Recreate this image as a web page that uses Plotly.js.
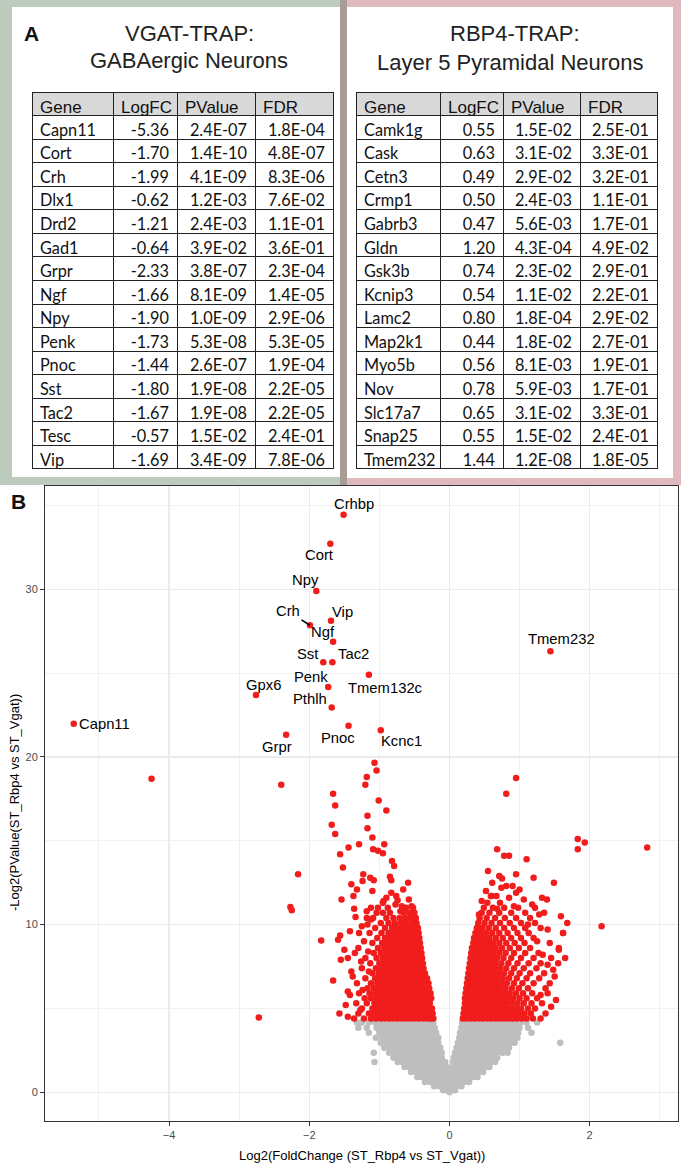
<!DOCTYPE html>
<html><head><meta charset="utf-8">
<script src="https://cdn.plot.ly/plotly-3.0.1.min.js"></script>
<style>html,body{margin:0;padding:0;background:#fff}#chart{width:681px;height:1165px}</style>
</head><body><div id="chart"></div>
<script>
// ---------- Panel A tables ----------
const tableHeader = ['Gene','LogFC','PValue','FDR'];
const vgatGenes = ['Capn11','Cort','Crh','Dlx1','Drd2','Gad1','Grpr','Ngf','Npy','Penk','Pnoc','Sst','Tac2','Tesc','Vip'];
const vgatLogFC = [-5.36,-1.70,-1.99,-0.62,-1.21,-0.64,-2.33,-1.66,-1.90,-1.73,-1.44,-1.80,-1.67,-0.57,-1.69];
const vgatPValue = [2.4e-7,1.4e-10,4.1e-9,1.2e-3,2.4e-3,3.9e-2,3.8e-7,8.1e-9,1.0e-9,5.3e-8,2.6e-7,1.9e-8,1.9e-8,1.5e-2,3.4e-9];
const vgatFDR = [1.8e-4,4.8e-7,8.3e-6,7.6e-2,1.1e-1,3.6e-1,2.3e-4,1.4e-5,2.9e-6,5.3e-5,1.9e-4,2.2e-5,2.2e-5,2.4e-1,7.8e-6];

const rbp4Genes = ['Camk1g','Cask','Cetn3','Crmp1','Gabrb3','Gldn','Gsk3b','Kcnip3','Lamc2','Map2k1','Myo5b','Nov','Slc17a7','Snap25','Tmem232'];
const rbp4LogFC = [0.55,0.63,0.49,0.50,0.47,1.20,0.74,0.54,0.80,0.44,0.56,0.78,0.65,0.55,1.44];
const rbp4PValue = [1.5e-2,3.1e-2,2.9e-2,2.4e-3,5.6e-3,4.3e-4,2.3e-2,1.1e-2,1.8e-4,1.8e-2,8.1e-3,5.9e-3,3.1e-2,1.5e-2,1.2e-8];
const rbp4FDR = [2.5e-1,3.3e-1,3.2e-1,1.1e-1,1.7e-1,4.9e-2,2.9e-1,2.2e-1,2.9e-2,2.7e-1,1.9e-1,1.7e-1,3.3e-1,2.4e-1,1.8e-5];

// ---------- Panel B volcano ----------
const xTickVals = [-4,-2,0,2];
const yTickVals = [0,10,20,30];
// labelled genes: log2 fold change, -log2(p)
const labGenes = ['Crhbp','Cort','Npy','Crh','Vip','Ngf','Sst','Tac2','Tmem132c','Penk','Gpx6','Pthlh','Pnoc','Kcnc1','Grpr','Capn11','Tmem232'];
const labX = [-1.51,-1.70,-1.90,-1.99,-1.69,-1.66,-1.80,-1.67,-1.15,-1.73,-2.76,-1.68,-1.44,-0.98,-2.33,-5.36,1.44];
const labY = [34.45,32.73,29.90,27.86,28.13,26.88,25.65,25.65,24.90,24.17,23.70,22.95,21.87,21.60,21.33,21.99,26.31];

// significant genes (red), rows: [-log2 p, [log2FC ...]]
const sigLeftRows = [
 [4.4,[-1.36,-1.22,-1.12,-1.05,-0.98,-0.92,-0.86,-0.80,-0.74,-0.68,-0.62,-0.56,-0.50,-0.44,-0.38,-0.32,-0.27,-0.23]],
 [4.7,[-1.30,-1.15,-1.08,-1.01,-0.95,-0.89,-0.83,-0.77,-0.71,-0.65,-0.59,-0.53,-0.47,-0.41,-0.35,-0.29,-0.24]],
 [5.0,[-1.25,-1.10,-1.03,-0.97,-0.91,-0.85,-0.79,-0.73,-0.67,-0.61,-0.55,-0.49,-0.43,-0.37,-0.31,-0.25]],
 [5.3,[-1.33,-1.18,-1.07,-1.00,-0.94,-0.88,-0.82,-0.76,-0.70,-0.64,-0.58,-0.52,-0.46,-0.40,-0.34,-0.28]],
 [5.6,[-1.21,-1.12,-1.04,-0.97,-0.91,-0.85,-0.79,-0.73,-0.67,-0.61,-0.55,-0.49,-0.43,-0.37,-0.31,-0.26]],
 [5.9,[-1.29,-1.14,-1.06,-0.99,-0.93,-0.87,-0.81,-0.75,-0.69,-0.63,-0.57,-0.51,-0.45,-0.39,-0.33,-0.27]],
 [6.2,[-1.17,-1.08,-1.01,-0.95,-0.89,-0.83,-0.77,-0.71,-0.65,-0.59,-0.53,-0.47,-0.41,-0.35,-0.29]],
 [6.5,[-1.32,-1.12,-1.03,-0.97,-0.91,-0.85,-0.79,-0.73,-0.67,-0.61,-0.55,-0.49,-0.43,-0.37,-0.30]],
 [6.8,[-1.20,-1.06,-0.99,-0.93,-0.87,-0.81,-0.75,-0.69,-0.63,-0.57,-0.51,-0.45,-0.39,-0.32]],
 [7.1,[-1.10,-1.01,-0.95,-0.89,-0.83,-0.77,-0.71,-0.65,-0.59,-0.53,-0.47,-0.41,-0.35]],
 [7.4,[-1.25,-1.05,-0.97,-0.91,-0.85,-0.79,-0.73,-0.67,-0.61,-0.55,-0.49,-0.43,-0.37]],
 [7.7,[-1.13,-1.00,-0.93,-0.87,-0.80,-0.74,-0.68,-0.62,-0.56,-0.50,-0.44,-0.38]],
 [8.0,[-1.20,-1.04,-0.95,-0.88,-0.82,-0.75,-0.69,-0.63,-0.57,-0.51,-0.45,-0.39]],
 [8.3,[-1.08,-0.98,-0.90,-0.83,-0.77,-0.70,-0.64,-0.58,-0.52,-0.46,-0.40]],
 [8.6,[-1.30,-1.02,-0.93,-0.85,-0.78,-0.72,-0.65,-0.59,-0.53,-0.47,-0.41]],
 [8.9,[-1.10,-0.96,-0.88,-0.80,-0.73,-0.67,-0.60,-0.54,-0.48,-0.42]],
 [9.2,[-1.03,-0.92,-0.84,-0.76,-0.69,-0.62,-0.55,-0.49,-0.43]],
 [9.5,[-1.14,-0.97,-0.87,-0.79,-0.71,-0.64,-0.57,-0.50,-0.44]],
 [9.8,[-1.06,-0.92,-0.82,-0.74,-0.66,-0.58,-0.51,-0.45]],
 [10.1,[-0.98,-0.87,-0.78,-0.69,-0.61,-0.53,-0.47]],
 [10.4,[-1.09,-0.90,-0.80,-0.71,-0.63,-0.55,-0.48]],
 [10.7,[-0.95,-0.85,-0.65,-0.57,-0.50]],
 [11.0,[-1.12,-0.88,-0.62,-0.52]]
];
const sigRightRows = [
 [4.4,[0.19,0.24,0.30,0.36,0.42,0.48,0.54,0.60,0.66,0.72,0.78,0.84,0.90,0.96,1.03,1.10,1.19,1.30]],
 [4.7,[0.20,0.26,0.32,0.38,0.44,0.50,0.56,0.62,0.68,0.74,0.80,0.86,0.92,0.99,1.07,1.16,1.37]],
 [5.0,[0.21,0.27,0.33,0.39,0.45,0.51,0.57,0.63,0.69,0.75,0.81,0.87,0.94,1.02,1.12,1.22]],
 [5.3,[0.22,0.28,0.34,0.40,0.46,0.52,0.58,0.64,0.70,0.76,0.82,0.89,0.97,1.06,1.17,1.32]],
 [5.6,[0.22,0.28,0.34,0.40,0.46,0.52,0.58,0.64,0.70,0.76,0.83,0.91,1.00,1.10,1.25]],
 [5.9,[0.23,0.29,0.35,0.41,0.47,0.53,0.59,0.65,0.71,0.78,0.86,0.95,1.05,1.18,1.40]],
 [6.2,[0.24,0.30,0.36,0.42,0.48,0.54,0.60,0.66,0.72,0.80,0.89,0.99,1.12,1.37]],
 [6.5,[0.25,0.31,0.37,0.43,0.49,0.55,0.61,0.67,0.74,0.82,0.92,1.04,1.20,1.43]],
 [6.8,[0.26,0.32,0.38,0.44,0.50,0.56,0.62,0.68,0.76,0.85,0.96,1.10,1.28]],
 [7.1,[0.27,0.33,0.39,0.45,0.51,0.57,0.63,0.70,0.78,0.88,1.00,1.15,1.35]],
 [7.4,[0.28,0.34,0.40,0.46,0.52,0.58,0.64,0.72,0.81,0.92,1.06,1.24]],
 [7.7,[0.29,0.35,0.41,0.47,0.53,0.59,0.66,0.74,0.84,0.97,1.13,1.30]],
 [8.0,[0.30,0.36,0.42,0.48,0.54,0.61,0.68,0.77,0.88,1.02,1.20,1.45]],
 [8.3,[0.31,0.37,0.43,0.49,0.56,0.63,0.71,0.80,0.92,1.08,1.27]],
 [8.6,[0.32,0.38,0.44,0.51,0.58,0.66,0.75,0.86,0.99,1.15,1.56]],
 [8.9,[0.34,0.40,0.47,0.54,0.62,0.71,0.81,0.93,1.07,1.43]],
 [9.2,[0.35,0.42,0.49,0.57,0.66,0.76,0.88,1.02,1.20]],
 [9.5,[0.37,0.44,0.52,0.61,0.71,0.83,0.97,1.13,1.62]],
 [9.8,[0.39,0.47,0.56,0.66,0.78,0.92,1.08,1.30]],
 [10.1,[0.41,0.50,0.60,0.72,0.86,1.02,1.22,1.68]],
 [10.4,[0.43,0.53,0.65,0.79,0.95,1.15]],
 [10.7,[0.46,0.57,0.71,0.88,1.08,1.35]],
 [11.0,[0.49,0.62,0.78,0.98,1.22]]
];
const sigScatter = [
 [-1.07,19.65],[-1.04,19.2],[-1.18,18.8],[-1.20,18.35],[-2.40,18.35],[-4.25,18.7],[-1.66,17.8],[-1.63,17.1],
 [-1.01,17.4],[-0.90,16.8],[-1.17,16.5],[-1.68,15.95],[-1.63,15.4],[-1.17,15.75],[-1.10,15.2],[-0.93,14.8],
 [-1.29,14.8],[-1.44,14.6],[-1.09,14.5],[-1.02,14.4],[-0.95,14.25],[-1.56,14.2],[-0.82,13.8],[-0.79,13.5],
 [-1.52,13.4],[-2.16,13.0],[-1.23,13.0],[-1.13,12.8],[-1.08,12.65],[-1.24,12.6],[-0.85,12.85],[-0.83,12.65],
 [-0.59,12.5],[-1.40,12.4],[-1.32,12.1],[-1.10,12.0],[-2.27,11.05],[-2.25,10.85],[-1.54,11.5],[-1.37,11.7],
 [-1.36,10.95],[-1.34,10.45],[-0.94,11.4],[-0.90,11.6],[-0.76,11.7],[-0.74,11.45],[-0.68,11.1],[-0.54,11.1],
 [-0.77,11.2],[-1.18,10.8],[-1.04,10.7],[-1.18,10.4],[-1.17,10.0],[-1.42,9.6],[-1.29,9.5],[-1.56,9.35],
 [-1.59,9.1],[-1.83,9.05],[-1.55,7.9],[-1.50,8.5],[-1.66,6.67],[-1.57,4.7],[-2.72,4.45],[-1.45,6.0],
 [-1.40,7.2],[-1.45,8.0],
 [-1.48,5.2],[-1.42,5.8],[-1.38,6.9],[-1.26,7.8],[-1.35,8.3],[-1.22,9.0],[-1.25,9.9],[-1.12,10.3],
 [-1.02,11.0],[-1.45,4.5],[-1.27,4.9],[-1.24,6.1],[-1.15,7.2],[-1.16,8.4],
 [-0.70,10.8],[-0.95,11.3],[-0.58,11.5],[-0.83,11.9],[-0.66,12.1],
 [0.95,18.75],[0.81,17.8],[1.83,15.1],[1.93,14.9],[1.83,14.5],[2.82,14.6],[0.68,14.5],[0.78,14.1],
 [0.85,14.1],[1.10,13.9],[1.49,12.5],[0.71,12.9],[0.75,12.75],[0.61,12.5],[0.60,11.7],[0.81,12.3],
 [0.90,12.3],[0.85,11.6],[0.59,11.7],[0.67,11.7],[1.06,11.5],[1.32,11.6],[1.39,11.5],[2.17,9.9],
 [1.62,9.5],[1.59,10.5],[1.56,8.5],[0.55,13.2],[0.95,13.0],[1.20,12.8],[0.52,12.0],[1.00,12.1],
 [1.45,5.1],[1.52,5.5],[1.30,5.8],[1.50,6.9],[1.40,7.6],[1.33,8.2],[1.25,9.0],[1.40,9.7],
 [1.12,10.0],[1.28,10.6],[1.18,11.2],[0.72,11.3],[0.92,11.1],[1.48,7.3],[1.65,8.0],[1.55,7.7],
 [0.54,11.3],[0.68,10.95],[0.42,10.6],[0.46,11.4],[0.74,12.2],[0.95,11.9]
];
// non-significant genes (grey), rows: [-log2 p, [log2FC ...]]
const nsRows = [
 [4.15,[-1.32,-1.25,-1.15,-1.06,-0.99,-0.92,-0.85,-0.78,-0.71,-0.64,-0.57,-0.50,-0.43,-0.36,-0.29,-0.23,0.18,0.25,0.32,0.39,0.46,0.53,0.60,0.67,0.74,0.81,0.88,0.95,1.02,1.10,1.25]],
 [3.85,[-1.30,-1.18,-1.04,-0.97,-0.90,-0.83,-0.76,-0.69,-0.62,-0.55,-0.48,-0.41,-0.34,-0.27,-0.21,0.17,0.23,0.30,0.37,0.44,0.51,0.58,0.65,0.72,0.79,0.86,0.93,1.00,1.12]],
 [3.55,[-1.15,-1.00,-0.93,-0.86,-0.79,-0.72,-0.65,-0.58,-0.51,-0.44,-0.37,-0.30,-0.24,-0.19,0.15,0.21,0.28,0.35,0.42,0.49,0.56,0.63,0.70,0.77,0.84,0.91,0.98,1.17]],
 [3.25,[-1.05,-0.96,-0.89,-0.82,-0.75,-0.68,-0.61,-0.54,-0.47,-0.40,-0.33,-0.26,-0.20,-0.16,0.14,0.19,0.26,0.33,0.40,0.47,0.54,0.61,0.68,0.75,0.82,0.89,0.97]],
 [2.95,[-0.98,-0.91,-0.84,-0.77,-0.70,-0.63,-0.56,-0.49,-0.42,-0.35,-0.28,-0.22,-0.16,0.12,0.17,0.24,0.31,0.38,0.45,0.52,0.59,0.66,0.73,0.80,0.87,0.93,1.58]],
 [2.65,[-0.93,-0.86,-0.79,-0.72,-0.65,-0.58,-0.51,-0.44,-0.37,-0.30,-0.23,-0.17,-0.13,0.10,0.15,0.22,0.29,0.36,0.43,0.50,0.57,0.64,0.71,0.78,0.85]],
 [2.35,[-1.08,-0.86,-0.79,-0.72,-0.65,-0.58,-0.51,-0.44,-0.37,-0.30,-0.23,-0.17,-0.11,0.08,0.13,0.20,0.27,0.34,0.41,0.48,0.55,0.62,0.69,0.76,0.83]],
 [2.05,[-0.80,-0.73,-0.66,-0.59,-0.52,-0.45,-0.38,-0.31,-0.24,-0.17,-0.11,0.06,0.12,0.19,0.26,0.33,0.40,0.47,0.54,0.61,0.68]],
 [1.80,[-1.07,-0.74,-0.67,-0.60,-0.53,-0.46,-0.39,-0.32,-0.25,-0.18,-0.11,-0.06,0.05,0.10,0.17,0.24,0.31,0.38,0.45,0.52,0.59,0.65]],
 [1.50,[-0.64,-0.57,-0.50,-0.43,-0.36,-0.29,-0.22,-0.15,-0.09,-0.04,0.04,0.09,0.16,0.23,0.30,0.37,0.44,0.51,0.57]],
 [1.20,[-0.55,-0.48,-0.41,-0.34,-0.27,-0.20,-0.13,-0.07,-0.02,0.03,0.08,0.15,0.22,0.29,0.36,0.43,0.48]],
 [0.90,[-0.46,-0.39,-0.32,-0.25,-0.18,-0.11,-0.05,0.00,0.06,0.13,0.20,0.27,0.34,0.40]],
 [0.60,[-0.35,-0.28,-0.21,-0.14,-0.07,0.00,0.07,0.14,0.21,0.28]],
 [0.35,[-0.22,-0.15,-0.08,-0.02,0.04,0.10,0.17]],
 [0.12,[-0.09,-0.03,0.03,0.08]],
 [0.00,[0.00]]
];

// ---------- helpers ----------
const W = 681, H = 1165;
const px = x => x / W, py = y => 1 - y / H;
function fmtE(v){
  const s = v.toExponential(1).split('e');
  const e = parseInt(s[1], 10);
  return s[0] + 'E' + (e < 0 ? '-' : '+') + String(Math.abs(e)).padStart(2, '0');
}
function flatten(rows){
  const xs = [], ys = [];
  rows.forEach(r => r[1].forEach(x => { xs.push(x); ys.push(r[0]); }));
  return {xs, ys};
}
function tableTrace(genes, fc, p, fdr, x0, x1, cw){
  return {
    type: 'table',
    domain: {x: [px(x0), px(x1)], y: [py(474), py(92)]},
    columnwidth: cw,
    header: {
      values: tableHeader, align: 'left', height: 23.56,
      fill: {color: '#d9d9d9'}, line: {color: '#222', width: 1},
      font: {family: 'Liberation Sans, Arial, sans-serif', size: 17, color: '#111'}
    },
    cells: {
      values: [genes, fc.map(v => v.toFixed(2)), p.map(fmtE), fdr.map(fmtE)],
      align: ['left', 'right', 'right', 'right'], height: 23.56,
      fill: {color: '#ffffff'}, line: {color: '#222', width: 1},
      font: {family: 'Lato, sans-serif', size: 16.3, color: '#111'}
    }
  };
}

const ns = flatten(nsRows);
const sigL = flatten(sigLeftRows), sigR = flatten(sigRightRows);
const sigX = sigL.xs.concat(sigR.xs, sigScatter.map(p => p[0]), labX);
const sigY = sigL.ys.concat(sigR.ys, sigScatter.map(p => p[1]), labY);

const RED = '#f11d1d', GREY = '#bebebe';
const traces = [
  tableTrace(vgatGenes, vgatLogFC, vgatPValue, vgatFDR, 32, 333, [81, 64, 78, 78]),
  tableTrace(rbp4Genes, rbp4LogFC, rbp4PValue, rbp4FDR, 356, 657, [84, 63, 77, 77]),
  {type: 'scatter', mode: 'markers', x: ns.xs, y: ns.ys, xaxis: 'x', yaxis: 'y',
   marker: {color: GREY, size: 6.5, line: {width: 0}}, hoverinfo: 'skip'},
  {type: 'scatter', mode: 'markers', x: sigX, y: sigY, xaxis: 'x', yaxis: 'y',
   marker: {color: RED, size: 6.5, line: {width: 0}}, hoverinfo: 'skip'}
];

// label placement (pixel offsets of text centre from point)
const labelOffsets = {
  Crhbp: [10, 11], Cort: [-11, -11], Npy: [-11, 11], Vip: [11, 9], Ngf: [-10, 10],
  Sst: [-16, 8], Tac2: [21, 8], Tmem132c: [17, -13], Penk: [-17, 10], Gpx6: [7, 10],
  Pthlh: [-22, 9], Pnoc: [-11, -12], Kcnc1: [21, -11], Grpr: [-9, -12], Capn11: [31, 0],
  Tmem232: [11, 12]
};
const labFont = {family: 'Liberation Sans, Arial, sans-serif', size: 14.8, color: '#000'};
const annotations = [];
labGenes.forEach((g, i) => {
  if (g === 'Crh') {
    annotations.push({x: labX[i], y: labY[i], xref: 'x', yref: 'y', text: g, font: labFont,
      showarrow: true, arrowhead: 0, arrowwidth: 1.6, arrowcolor: '#000', ax: -22, ay: -14,
      standoff: 0, startstandoff: 0});
  } else {
    const o = labelOffsets[g];
    annotations.push({x: labX[i], y: labY[i], xref: 'x', yref: 'y', text: g, font: labFont,
      showarrow: false, xshift: o[0], yshift: o[1]});
  }
});
const titleFont = {family: 'Liberation Sans, Arial, sans-serif', size: 22, color: '#222'};
function paperText(text, x, y, font, extra){
  return Object.assign({xref: 'paper', yref: 'paper', x: px(x), y: py(y), text, font,
    showarrow: false, xanchor: 'center', yanchor: 'middle'}, extra || {});
}
annotations.push(
  paperText('<b>A</b>', 31, 33, {family: 'Liberation Sans, Arial, sans-serif', size: 21, color: '#111'}),
  paperText('<b>B</b>', 18, 501, {family: 'Liberation Sans, Arial, sans-serif', size: 21, color: '#111'}),
  paperText('VGAT-TRAP:', 189, 34, titleFont),
  paperText('GABAergic Neurons', 189, 61, titleFont),
  paperText('RBP4-TRAP:', 515, 34, titleFont),
  paperText('Layer 5 Pyramidal Neurons', 510, 62, titleFont),
  paperText('Log2(FoldChange (ST_Rbp4 vs ST_Vgat))', 361.5, 1155, {family: 'Liberation Sans, Arial, sans-serif', size: 13, color: '#000'}),
  paperText('-Log2(PValue(ST_Rbp4 vs ST_Vgat))', 14, 803, {family: 'Liberation Sans, Arial, sans-serif', size: 13, color: '#000'}, {textangle: -90})
);

function rect(x0, y0, x1, y1, color){
  return {type: 'rect', xref: 'paper', yref: 'paper', x0: px(x0), x1: px(x1), y0: py(y1), y1: py(y0),
    fillcolor: color, line: {width: 0}, layer: 'below'};
}
const shapes = [
  rect(0, 0, 344, 485, '#bccbbd'),
  rect(344, 0, 681, 485, '#dfb9be'),
  rect(340, 0, 347, 485, '#a99b95'),
  rect(12, 7, 340, 477, '#ffffff'),
  rect(347, 7, 673, 478, '#ffffff')
];

const axisCommon = {
  showgrid: true, gridcolor: '#ebebeb', gridwidth: 1.3, zeroline: false,
  showline: true, mirror: true, linecolor: '#333', linewidth: 1,
  ticks: 'outside', ticklen: 4, tickcolor: '#333', tickwidth: 1,
  tickfont: {family: 'Liberation Sans, Arial, sans-serif', size: 11, color: '#4d4d4d'},
  fixedrange: true
};
const layout = {
  width: W, height: H, margin: {l: 0, r: 0, t: 0, b: 0},
  paper_bgcolor: '#fff', plot_bgcolor: '#fff', showlegend: false,
  xaxis: Object.assign({}, axisCommon, {domain: [px(45), px(678)], range: [-5.77, 3.26],
    tickmode: 'array', tickvals: xTickVals,
    minor: {dtick: 1, tick0: 1, showgrid: true, gridcolor: '#ebebeb', gridwidth: 0.7}}),
  yaxis: Object.assign({}, axisCommon, {domain: [py(1121), py(486)], range: [-1.72, 36.17],
    tickmode: 'array', tickvals: yTickVals,
    minor: {dtick: 5, tick0: 5, showgrid: true, gridcolor: '#ebebeb', gridwidth: 0.7}}),
  shapes, annotations
};
Plotly.newPlot('chart', traces, layout, {staticPlot: true, displayModeBar: false});
</script></body></html>
